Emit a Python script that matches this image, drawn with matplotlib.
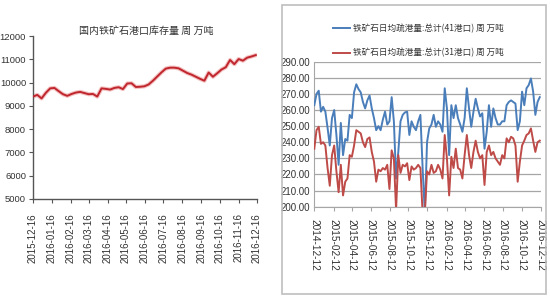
import numpy as np
import pandas as pd
import matplotlib
matplotlib.use("Agg")
import matplotlib.pyplot as plt
from matplotlib.patches import Rectangle

plt.rcParams['font.family'] = ['Noto Sans CJK SC', 'DejaVu Sans']

# ---------------- data ----------------
left_title = "国内铁矿石港口库存量 周 万吨"
left_start = "2015-12-16"
left_values = [9400, 9470, 9320, 9560, 9750, 9770, 9630, 9500, 9430, 9510,
               9570, 9600, 9550, 9500, 9510, 9400, 9750, 9730, 9700, 9770,
               9800, 9720, 9960, 9970, 9810, 9820, 9840, 9920, 10080, 10260,
               10440, 10600, 10640, 10640, 10610, 10510, 10410, 10340, 10250, 10160,
               10080, 10430, 10250, 10400, 10560, 10660, 10970, 10790, 11010, 10940,
               11070, 11120, 11180]
left_ticks = ["2015-12-16", "2016-01-16", "2016-02-16", "2016-03-16", "2016-04-16",
              "2016-05-16", "2016-06-16", "2016-07-16", "2016-08-16", "2016-09-16",
              "2016-10-16", "2016-11-16", "2016-12-16"]
left_yticks = [5000, 6000, 7000, 8000, 9000, 10000, 11000, 12000]

right_start = "2014-12-12"
right_end = "2016-12-09"
series_41_name = "铁矿石日均疏港量:总计(41港口) 周 万吨"
series_31_name = "铁矿石日均疏港量:总计(31港口) 周 万吨"
series_41 = [263, 270, 272, 259, 262, 259, 249, 238, 255, 260, 244.5, 226, 252, 232, 242,
             241, 257, 255, 271, 276, 273, 271, 265, 261, 266, 269, 261, 255, 247.5, 250, 247.5,
             254, 259, 251, 253, 268, 253, 217.5, 234, 253, 257, 258.5, 259, 244.5, 253, 249.6,
             247.5, 253, 257, 224, 196, 240, 248.6, 251, 257, 249.6, 253, 251, 246.5, 273.5, 261,
             232, 263, 255,
             263, 255, 251, 246.5, 255, 273.5, 261, 249.6, 259, 267, 261, 256, 258, 236, 246.5,
             263, 249.6, 261, 255, 251, 251, 253, 253, 263, 265, 266, 265, 264, 247.5, 253, 271.4,
             263, 273.5, 275.5, 279.6, 271.4, 257, 265, 268]
series_31 = [236, 247.5, 249.6, 239, 240, 238, 224, 213, 232, 238, 222, 209, 226, 207, 215.5,
             217.5, 232, 231, 238, 247.5, 246.5, 245.5, 240, 237, 242, 243, 234, 228, 215.5, 223, 222,
             224, 223, 226, 211, 235, 230, 198, 232, 221, 226, 225, 227, 216.5, 225, 223, 224, 226,
             224, 196, 196, 222, 220, 226, 221, 222, 226, 223, 217.5, 244.5, 230, 207, 231, 224,
             236, 224, 223, 217.5, 232, 244.5, 232, 224, 234, 241, 234, 230, 232, 213.5, 234, 238,
             232, 234, 230, 228, 226, 232, 230, 242.4, 240, 243.4, 242.4, 238, 215.5, 228, 238, 241,
             244.5, 245.5, 248.6, 241, 234, 240, 241]
right_ticks = ["2014-12-12", "2015-02-12", "2015-04-12", "2015-06-12", "2015-08-12",
               "2015-10-12", "2015-12-12", "2016-02-12", "2016-04-12", "2016-06-12",
               "2016-08-12", "2016-10-12", "2016-12-12"]
right_yticks = [200, 210, 220, 230, 240, 250, 260, 270, 280, 290]

NARROW = ["Liberation Sans Narrow", "Liberation Sans", "DejaVu Sans"]
REGULAR = ["Liberation Sans", "DejaVu Sans"]

# ---------------- figure ----------------
W, H = 550, 300
fig = plt.figure(figsize=(5.5, 3.0), dpi=100)
fig.patch.set_facecolor("white")

def frac(x0, y0, x1, y1):
    return [x0 / W, 1 - y1 / H, (x1 - x0) / W, (y1 - y0) / H]

# Left chart
axl = fig.add_axes(frac(33, 36, 257, 199))
ldates = pd.date_range(left_start, periods=len(left_values), freq="7D")
axl.plot(ldates, left_values, color="#f4c2c2", lw=3.0, solid_capstyle="round", zorder=2)
axl.plot(ldates, left_values, color="#c0262d", lw=1.4, zorder=3)
lt = pd.to_datetime(left_ticks)
axl.set_xlim(lt[0], lt[-1])
axl.set_ylim(5000, 12000)
axl.set_xticks(lt)
axl.set_xticklabels(left_ticks, rotation=90, fontsize=7, color="#333333", family=REGULAR)
axl.set_yticks(left_yticks)
axl.set_yticklabels([str(v) for v in left_yticks], fontsize=6.8, color="#333333", family=NARROW)
for s in ["top", "right"]:
    axl.spines[s].set_visible(False)
for s in ["left", "bottom"]:
    axl.spines[s].set_color("#555555")
    axl.spines[s].set_linewidth(1.0)
axl.tick_params(axis="both", direction="out", length=3, color="#555555", width=0.8)
axl.tick_params(axis="y", pad=2)
axl.tick_params(axis="x", pad=7)
fig.text(146 / W, 1 - 31 / H, left_title, ha="center", va="center", fontsize=7.2, color="#333333")

# Right panel border
fig.patches.append(Rectangle((282 / W, 1 - 294 / H), (546 - 282) / W, (294 - 5) / H,
                             transform=fig.transFigure, fill=False, edgecolor="#bfbfbf",
                             lw=1.2, zorder=0))

axr = fig.add_axes(frac(314.3, 61.7, 540.7, 206.7))
rdates = pd.to_datetime(np.linspace(pd.Timestamp(right_start).value,
                                    pd.Timestamp(right_end).value, len(series_41)))
axr.plot(rdates, series_41, color="#4a7ebb", lw=1.4, label=series_41_name, zorder=3)
axr.plot(rdates, series_31, color="#be4b48", lw=1.4, label=series_31_name, zorder=3)
rt = pd.to_datetime(right_ticks)
axr.set_xlim(rt[0], rt[-1])
axr.set_ylim(200, 290)
axr.set_xticks(rt)
axr.set_xticklabels(right_ticks, rotation=270, fontsize=7.2, color="#333333", family=REGULAR)
axr.set_yticks(right_yticks)
axr.set_yticklabels([f"{v:.2f}" for v in right_yticks], fontsize=7, color="#333333",
                    family=NARROW)
axr.grid(axis="y", color="#a6a6a6", lw=0.9)
axr.set_axisbelow(True)
for s in ["top", "right"]:
    axr.spines[s].set_visible(False)
for s in ["left", "bottom"]:
    axr.spines[s].set_color("#a6a6a6")
axr.tick_params(axis="x", direction="out", length=3, color="#a6a6a6", pad=6)
axr.tick_params(axis="y", length=0, pad=3)
axr.legend(loc="lower center", bbox_to_anchor=(0.46, 0.975), frameon=False, ncol=1,
           fontsize=6.2, labelspacing=1.75, handlelength=2.0, handletextpad=0.4,
           labelcolor="#333333")

fig.savefig("out.png", dpi=100, facecolor="white")
